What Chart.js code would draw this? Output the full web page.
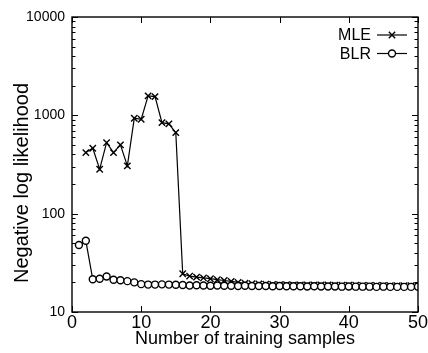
<!DOCTYPE html>
<html>
<head>
<meta charset="utf-8">
<script src="https://cdn.jsdelivr.net/npm/chart.js@4"></script>
<style>
html,body{margin:0;padding:0;background:#fff;}
canvas{display:block;}
</style>
</head>
<body>
<canvas id="c" width="428" height="353"></canvas>
<script>
// ---- data ----
const seriesNames = ['MLE', 'BLR'];
const mleX = [2,3,4,5,6,7,8,9,10,11,12,13,14,15,16,17,18,19,20,21,22,23,24,25,26,27,28,29,30,31,32,33,34,35,36,37,38,39,40,41,42,43,44,45,46,47,48,49,50];
const mleY = [418,463,283,527,418,500,306,934,913,1575,1549,843,818,667,24.5,23.2,22.6,22.2,21.8,21.3,20.9,20.5,20.0,19.6,19.4,19.3,19.2,19.1,19.0,19.0,18.9,18.9,18.9,18.8,18.8,18.8,18.7,18.7,18.7,18.7,18.6,18.6,18.6,18.6,18.5,18.5,18.5,18.5,18.5];
const blrX = [1,2,3,4,5,6,7,8,9,10,11,12,13,14,15,16,17,18,19,20,21,22,23,24,25,26,27,28,29,30,31,32,33,34,35,36,37,38,39,40,41,42,43,44,45,46,47,48,49,50];
const blrY = [48,53,21.5,21.8,23,21.3,21,20.6,20,19.2,19,19,19.1,19,18.9,18.8,18.6,18.7,18.6,18.5,18.6,18.5,18.5,18.4,18.5,18.4,18.4,18.4,18.3,18.4,18.3,18.3,18.3,18.2,18.3,18.2,18.2,18.2,18.1,18.2,18.1,18.1,18.1,18.0,18.1,18.0,18.0,18.0,18.0,18.1];
const xTickValues = [0,10,20,30,40,50];
const yTickValues = [10,100,1000,10000];
const xTitle = 'Number of training samples';
const yTitle = 'Negative log likelihood';

const FONT = "'Liberation Sans', Arial, Helvetica, sans-serif";

const toPts = (xs, ys) => xs.map((x, i) => ({x: x, y: ys[i]}));

// frame, inward ticks, legend and y title
const decor = {
  id: 'decor',
  afterDraw(chart) {
    const ctx = chart.ctx;
    const a = chart.chartArea;
    const xs = chart.scales.x, ys = chart.scales.y;
    ctx.save();
    ctx.strokeStyle = '#000';
    ctx.lineWidth = 1.4;
    ctx.strokeRect(a.left, a.top, a.right - a.left, a.bottom - a.top);
    ctx.beginPath();
    // x ticks (bottom & top)
    xTickValues.forEach(v => {
      const px = Math.round(xs.getPixelForValue(v)) + 0.5;
      ctx.moveTo(px, a.bottom); ctx.lineTo(px, a.bottom - 6);
      ctx.moveTo(px, a.top); ctx.lineTo(px, a.top + 6);
    });
    // y ticks (left & right), major + minor
    for (let d = 0; d < yTickValues.length; d++) {
      const base = yTickValues[d];
      const pm = Math.round(ys.getPixelForValue(base)) + 0.5;
      ctx.moveTo(a.left, pm); ctx.lineTo(a.left + 6, pm);
      ctx.moveTo(a.right, pm); ctx.lineTo(a.right - 6, pm);
      if (d < yTickValues.length - 1) {
        for (let m = 2; m <= 9; m++) {
          const p = Math.round(ys.getPixelForValue(base * m)) + 0.5;
          ctx.moveTo(a.left, p); ctx.lineTo(a.left + 3.5, p);
          ctx.moveTo(a.right, p); ctx.lineTo(a.right - 3.5, p);
        }
      }
    }
    ctx.lineWidth = 1;
    ctx.stroke();

    // legend
    ctx.font = '16px ' + FONT;
    ctx.fillStyle = '#000';
    ctx.textAlign = 'right';
    ctx.textBaseline = 'middle';
    const lx1 = a.right - 41, lx2 = a.right - 11;
    chart.data.datasets.forEach((ds, i) => {
      const y = a.top + 18 + i * 18.5;
      ctx.fillText(seriesNames[i], a.right - 47, y + 1);
      ctx.beginPath();
      ctx.lineWidth = 1.2;
      ctx.strokeStyle = '#000';
      ctx.moveTo(lx1, y); ctx.lineTo(lx2, y);
      ctx.stroke();
      ctx.fillStyle = ds.pointBackgroundColor;
      ctx.strokeStyle = '#000';
      ctx.lineWidth = ds.pointBorderWidth;
      Chart.helpers.drawPoint(ctx, {pointStyle: ds.pointStyle, radius: ds.pointRadius, borderWidth: ds.pointBorderWidth, rotation: 0}, (lx1 + lx2) / 2, y);
      ctx.fillStyle = '#000';
    });

    // y title
    ctx.save();
    ctx.translate(22, 183);
    ctx.rotate(-Math.PI / 2);
    ctx.textAlign = 'center';
    ctx.textBaseline = 'middle';
    ctx.font = '20px ' + FONT;
    ctx.fillStyle = '#000';
    ctx.fillText(yTitle, 0, 0);
    ctx.restore();
    ctx.restore();
  }
};

new Chart(document.getElementById('c'), {
  type: 'line',
  data: {
    datasets: [
      {
        label: seriesNames[0],
        data: toPts(mleX, mleY),
        borderColor: '#000', borderWidth: 1.2,
        pointStyle: 'crossRot', pointRadius: 4.5, pointBorderWidth: 1.4,
        pointBorderColor: '#000', pointBackgroundColor: '#fff',
        fill: false, tension: 0, order: 1
      },
      {
        label: seriesNames[1],
        data: toPts(blrX, blrY),
        borderColor: '#000', borderWidth: 1.2,
        pointStyle: 'circle', pointRadius: 3.5, pointBorderWidth: 1.4,
        pointBorderColor: '#000', pointBackgroundColor: '#fff',
        fill: false, tension: 0, order: 0
      }
    ]
  },
  options: {
    responsive: false,
    animation: false,
    devicePixelRatio: 1,
    layout: {padding: {left: 0, right: 9, top: 17, bottom: 0}},
    plugins: {legend: {display: false}, tooltip: {enabled: false}},
    scales: {
      x: {
        type: 'linear', min: 0, max: 50,
        afterBuildTicks: s => { s.ticks = xTickValues.map(v => ({value: v})); },
        ticks: {color: '#000', font: {family: FONT, size: 18}, padding: 0, maxRotation: 0, autoSkip: false},
        grid: {display: false, drawTicks: false},
        border: {display: false},
        title: {display: true, text: xTitle, color: '#000', font: {family: FONT, size: 18}, padding: {top: 0, bottom: 3}},
        afterFit: s => { s.height = 41; }
      },
      y: {
        type: 'logarithmic', min: 10, max: 10000,
        afterBuildTicks: s => { s.ticks = yTickValues.map(v => ({value: v})); },
        ticks: {color: '#000', font: {family: FONT, size: 14}, padding: 7, autoSkip: false, callback: v => String(v)},
        grid: {display: false, drawTicks: false},
        border: {display: false},
        afterFit: s => { s.width = 72; }
      }
    }
  },
  plugins: [decor]
});
</script>
</body>
</html>
